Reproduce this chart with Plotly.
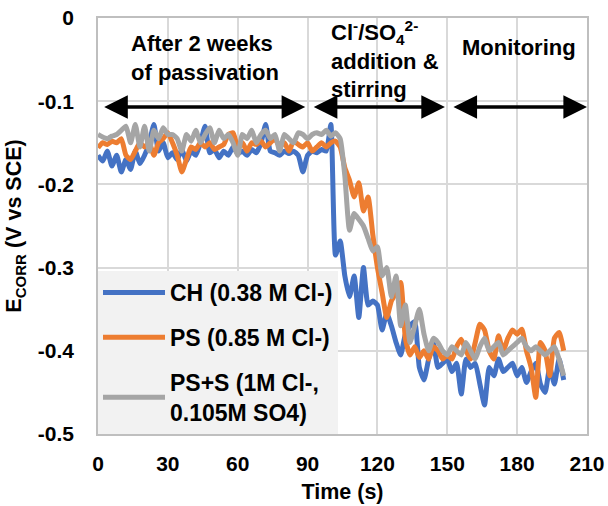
import plotly.graph_objects as go

time_s = list(range(0, 202, 2))

ch = [-0.165, -0.172, -0.160, -0.178, -0.165, -0.185, -0.170, -0.182, -0.160, -0.175,
      -0.165, -0.150, -0.128, -0.160, -0.150, -0.168, -0.162, -0.170, -0.158, -0.172,
      -0.160, -0.165, -0.150, -0.130, -0.162, -0.158, -0.168, -0.160, -0.165, -0.155,
      -0.163, -0.160, -0.165, -0.158, -0.162, -0.150, -0.128, -0.160, -0.162, -0.165,
      -0.160, -0.163, -0.160, -0.165, -0.185, -0.165, -0.160, -0.162, -0.158, -0.160,
      -0.128, -0.285, -0.268, -0.310, -0.335, -0.310, -0.360, -0.300, -0.345, -0.340,
      -0.345, -0.375, -0.355, -0.370, -0.390, -0.405, -0.380, -0.370, -0.365, -0.420,
      -0.435, -0.410, -0.390, -0.420, -0.415, -0.410, -0.425, -0.415, -0.452, -0.410,
      -0.420, -0.415, -0.440, -0.465, -0.420, -0.430, -0.410, -0.425, -0.420, -0.415,
      -0.430, -0.420, -0.438, -0.425, -0.415, -0.440, -0.450, -0.420, -0.440, -0.410,
      -0.435]

ps = [-0.156, -0.150, -0.152, -0.148, -0.150, -0.145, -0.165, -0.170, -0.160, -0.150,
      -0.155, -0.150, -0.165, -0.150, -0.145, -0.138, -0.150, -0.165, -0.185, -0.170,
      -0.155, -0.158, -0.150, -0.155, -0.150, -0.158, -0.155, -0.152, -0.140, -0.138,
      -0.155, -0.150, -0.160, -0.150, -0.152, -0.148, -0.155, -0.150, -0.145, -0.155,
      -0.150, -0.160, -0.148, -0.152, -0.155, -0.150, -0.160, -0.155, -0.150, -0.155,
      -0.150, -0.148, -0.155, -0.180, -0.195, -0.215, -0.198, -0.232, -0.215, -0.260,
      -0.300, -0.330, -0.360, -0.340, -0.330, -0.318, -0.385, -0.405, -0.395, -0.408,
      -0.400, -0.410, -0.395, -0.400, -0.410, -0.405, -0.410, -0.395, -0.386, -0.400,
      -0.410, -0.390, -0.368, -0.375, -0.400, -0.410, -0.382, -0.400, -0.385, -0.375,
      -0.380, -0.374, -0.400, -0.420, -0.456, -0.390, -0.400, -0.430, -0.385, -0.378,
      -0.400]

pss = [-0.140, -0.143, -0.145, -0.142, -0.140, -0.135, -0.130, -0.150, -0.128, -0.155,
       -0.130, -0.160, -0.135, -0.145, -0.132, -0.140, -0.140, -0.145, -0.160, -0.140,
       -0.148, -0.135, -0.150, -0.140, -0.132, -0.150, -0.135, -0.145, -0.140, -0.150,
       -0.165, -0.140, -0.145, -0.135, -0.150, -0.140, -0.135, -0.145, -0.140, -0.160,
       -0.140, -0.145, -0.150, -0.138, -0.140, -0.145, -0.140, -0.138, -0.140, -0.135,
       -0.142, -0.138, -0.145, -0.190, -0.255, -0.235, -0.242, -0.250, -0.265, -0.280,
       -0.275, -0.310, -0.300, -0.335, -0.310, -0.370, -0.345, -0.390, -0.370, -0.350,
       -0.380, -0.400, -0.385, -0.390, -0.400, -0.405, -0.395, -0.400, -0.405, -0.390,
       -0.400, -0.410, -0.395, -0.385, -0.400, -0.395, -0.390, -0.405, -0.400, -0.395,
       -0.390, -0.385, -0.395, -0.400, -0.395, -0.400, -0.405, -0.400, -0.395, -0.410,
       -0.430]

series_names = ["CH (0.38 M Cl-)", "PS (0.85 M Cl-)", "PS+S (1M Cl-,<br>0.105M SO4)"]
series_colors = ["#4472C4", "#ED7D31", "#A5A5A5"]

x_ticks = [0, 30, 60, 90, 120, 150, 180, 210]
y_ticks = [-0.5, -0.4, -0.3, -0.2, -0.1, 0]
y_ticktext = ["-0.5", "-0.4", "-0.3", "-0.2", "-0.1", "0"]

# phase arrows (start, end) in seconds, drawn at a fixed potential
phase_spans = [(2, 89), (92, 149), (152, 210)]
arrow_level = -0.107

FONT = "Liberation Sans, Arial, sans-serif"

fig = go.Figure()
for name, ys, col, i in zip(series_names, [ch, ps, pss], series_colors, range(3)):
    fig.add_trace(go.Scatter(
        x=time_s, y=ys, mode="lines", name=name, legendgroup=str(i),
        line=dict(color=col, width=5, shape="spline", smoothing=0.5),
    ))

annotations = []
for a, b in phase_spans:
    annotations.append(dict(
        x=b, y=arrow_level, ax=a, ay=arrow_level, xref="x", yref="y",
        axref="x", ayref="y", text="", showarrow=True,
        arrowhead=2, startarrowhead=2, arrowside="end+start",
        arrowwidth=3.5, arrowsize=1.35, startarrowsize=1.35, arrowcolor="black",
    ))

annotations += [
    dict(x=46, y=-0.048, xref="x", yref="y", showarrow=False, align="left",
         text="<b>After 2 weeks<br>of passivation</b>"),
    dict(x=99, y=-0.050, xref="x", yref="y", showarrow=False, align="left",
         xanchor="left",
         text="<b>Cl<sup>-</sup>/SO<sub>4</sub><sup>2-</sup><br>addition &<br>stirring</b>"),
    dict(x=181, y=-0.036, xref="x", yref="y", showarrow=False,
         text="<b>Monitoring</b>"),
]
for an in annotations:
    an.setdefault("font", dict(family=FONT, size=22, color="black"))

fig.update_layout(
    width=608, height=506,
    margin=dict(l=98, r=21, t=18, b=72),
    paper_bgcolor="white", plot_bgcolor="white",
    font=dict(family=FONT, size=21, color="black"),
    showlegend=True,
    legend=dict(x=0, y=0, xanchor="left", yanchor="bottom",
                bgcolor="#F2F2F2", borderwidth=0, itemwidth=62,
                font=dict(family=FONT, size=23, color="black", weight="bold"),
                tracegroupgap=12, traceorder="grouped"),
    annotations=annotations,
)
fig.update_xaxes(
    range=[0, 210], tickvals=x_ticks, showgrid=True, gridcolor="#D9D9D9", gridwidth=1.5,
    showline=True, linecolor="#BFBFBF", linewidth=1.5, mirror=True, zeroline=False,
    ticks="", ticklabelstandoff=10, automargin=False, ticklabeloverflow="allow",
    tickfont=dict(family=FONT, size=21, color="black", weight="bold"),
    title=dict(text="<b>Time (s)</b>", font=dict(family=FONT, size=21.5, color="black"), standoff=10),
)
fig.update_yaxes(
    range=[-0.5, 0], tickvals=y_ticks, ticktext=y_ticktext, showgrid=True,
    gridcolor="#D9D9D9", gridwidth=1.5,
    showline=True, linecolor="#BFBFBF", linewidth=1.5, mirror=True, zeroline=False,
    ticks="", ticklabelstandoff=18, automargin=False, ticklabeloverflow="allow",
    tickfont=dict(family=FONT, size=21, color="black", weight="bold"),
    title=dict(text="<b>E<sub>CORR</sub> (V vs SCE)</b>",
               font=dict(family=FONT, size=21.5, color="black"), standoff=10),
)

# remove the browser's default 8px page margin so the figure fills the window exactly
fig.write_html("out.html", config={"displayModeBar": False},
               post_script="document.body.style.margin='0';")
